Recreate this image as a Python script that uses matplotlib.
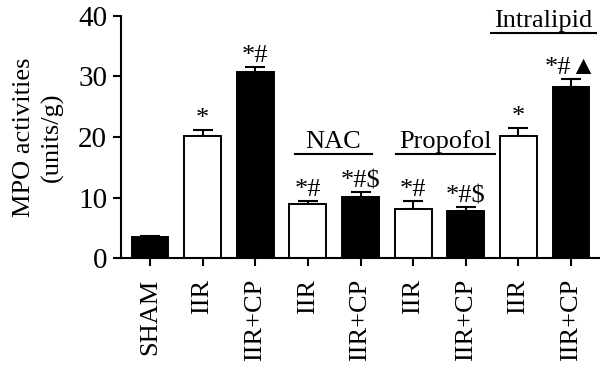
import numpy as np
import matplotlib.pyplot as plt

# MPO activities per group (units/g), mean and upper error
labels = ['SHAM', 'IIR', 'IIR+CP', 'IIR', 'IIR+CP', 'IIR', 'IIR+CP', 'IIR', 'IIR+CP']
values = [3.5, 20.2, 30.7, 8.9, 10.1, 8.1, 7.8, 20.2, 28.3]
errors = [0.2, 0.9, 0.8, 0.6, 0.8, 1.3, 0.6, 1.3, 1.3]
filled = [True, False, True, False, True, False, True, False, True]
marks = ['', '*', '*#', '*#', '*#$', '*#', '*#$', '*', '*#\u25B2']

# group label, x-span of underline, y of underline
groups = [('NAC', 2.75, 4.21, 17.2),
          ('Propofol', 4.68, 6.55, 17.2),
          ('Intralipid', 6.48, 8.48, 37.2)]

plt.rcParams['font.family'] = ['Liberation Serif', 'DejaVu Sans']
plt.rcParams['font.size'] = 19

fig = plt.figure(figsize=(6, 3.66), dpi=100)
ax = fig.add_axes([121/600, 1 - 258/366, 479/600, 242/366])

x = np.arange(len(values))
colors = ['black' if f else 'white' for f in filled]
ax.bar(x, values, width=0.7, color=colors, edgecolor='black', linewidth=1.4, zorder=2)
ax.errorbar(x, values, yerr=[np.zeros(len(errors)), errors], fmt='none',
            ecolor='black', elinewidth=1.5, capsize=7, capthick=1.5, zorder=1)

for xi, v, e, m in zip(x, values, errors, marks):
    if m:
        ax.annotate(m, (xi, v + e), xytext=(0, 0), textcoords='offset points',
                    ha='center', va='bottom')

for name, x0, x1, yl in groups:
    ax.plot([x0, x1], [yl, yl], color='black', lw=1.5, clip_on=False)
    ax.text((x0 + x1) / 2, yl + 1.0, name, ha='center', va='baseline')

ax.set_xlim(-0.55, 8.55)
ax.set_ylim(0, 40)
ax.set_yticks([0, 10, 20, 30, 40])
ax.set_xticks(x)
ax.set_xticklabels(labels, rotation=90)
ax.set_ylabel('MPO activities\n(units/g)', linespacing=1.35, labelpad=10)
ax.spines['top'].set_visible(False)
ax.spines['right'].set_visible(False)
for s in ['left', 'bottom']:
    ax.spines[s].set_linewidth(1.5)
ax.tick_params(width=1.5, length=6)
ax.tick_params(axis='x', pad=9)
ax.tick_params(axis='y', pad=4, labelsize=21)

fig.savefig('out.png', dpi=100)
